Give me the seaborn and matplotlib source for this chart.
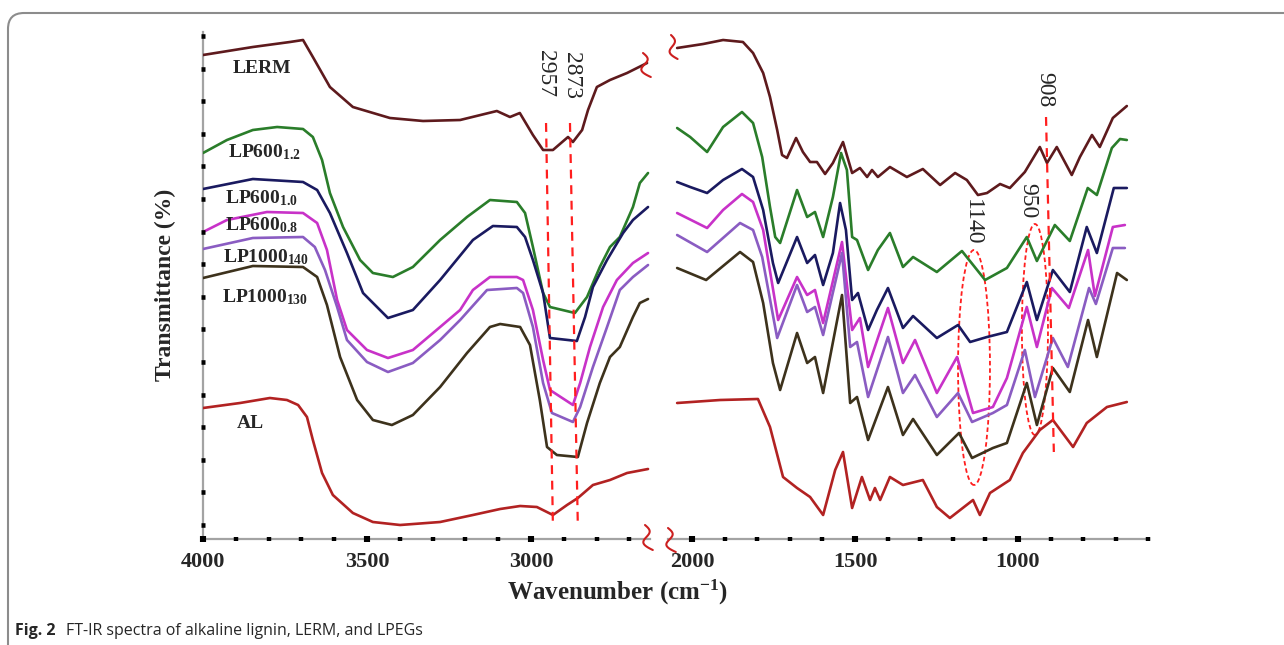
import numpy as np
import pandas as pd
import matplotlib
matplotlib.use("Agg")
import matplotlib.pyplot as plt
import seaborn as sns
from matplotlib.patches import Ellipse, FancyBboxPatch
from matplotlib.transforms import Affine2D
from matplotlib.ticker import MultipleLocator

# ---------------- data (transmittance in arbitrary units) ----------------
samples = ["LERM", "LP600_1.2", "LP600_1.0", "LP600_0.8", "LP1000_140", "LP1000_130", "AL"]
colors = ["#5e1a1d", "#2a7d2a", "#1a1a60", "#c832c8", "#8a5cc2", "#3d321c", "#b22222"]

# high wavenumber region (4000 - 2640 cm-1)
lerm_hi_wn = [4000, 3848, 3735, 3695, 3665, 3613, 3543, 3430, 3329, 3216, 3104, 3064, 3034, 2994, 2963, 2933, 2887, 2872, 2844, 2826, 2799, 2759, 2707, 2646]
lerm_hi_t = [96.8, 98.4, 99.4, 99.8, 96.4, 90.4, 86.4, 84.2, 83.6, 83.8, 85.6, 84.4, 85.2, 80.8, 77.8, 77.8, 80.4, 79.4, 81.8, 85.8, 90.4, 91.8, 93.2, 95.2]
g12_hi_wn = [4000, 3927, 3848, 3774, 3695, 3665, 3637, 3613, 3573, 3521, 3482, 3421, 3360, 3277, 3195, 3125, 3043, 3018, 2994, 2963, 2942, 2866, 2829, 2790, 2759, 2729, 2689, 2668, 2643]
g12_hi_t = [77.2, 79.8, 81.8, 82.4, 82.0, 80.4, 75.8, 69.2, 62.4, 55.8, 53.2, 52.4, 54.4, 59.8, 64.4, 67.8, 67.4, 65.2, 58.4, 49.2, 46.4, 45.2, 48.4, 54.4, 58.4, 60.4, 66.4, 71.2, 73.2]
n10_hi_wn = [4000, 3848, 3695, 3652, 3613, 3561, 3512, 3436, 3360, 3277, 3177, 3116, 3043, 3018, 2994, 2963, 2942, 2860, 2835, 2811, 2768, 2719, 2689, 2643]
n10_hi_t = [70.0, 72.0, 71.4, 69.8, 65.2, 57.2, 49.2, 44.2, 45.8, 51.8, 59.8, 62.6, 62.4, 60.4, 55.8, 49.2, 40.2, 39.6, 44.4, 50.4, 55.8, 61.2, 63.8, 66.4]
m08_hi_wn = [4000, 3927, 3805, 3695, 3652, 3622, 3591, 3561, 3500, 3436, 3360, 3277, 3216, 3177, 3125, 3043, 3024, 2994, 2963, 2942, 2872, 2850, 2820, 2780, 2738, 2689, 2643]
m08_hi_t = [61.4, 63.8, 65.4, 65.2, 63.2, 57.8, 47.8, 41.8, 37.8, 36.2, 37.8, 42.4, 45.8, 49.8, 52.4, 52.4, 51.8, 45.8, 35.8, 29.8, 26.8, 31.2, 38.4, 46.4, 51.8, 55.2, 57.2]
p140_hi_wn = [4000, 3848, 3695, 3659, 3628, 3591, 3561, 3500, 3436, 3360, 3277, 3216, 3134, 3043, 3024, 2994, 2963, 2936, 2872, 2850, 2811, 2768, 2729, 2689, 2643]
p140_hi_t = [58.0, 60.2, 60.4, 58.4, 53.8, 46.4, 39.8, 35.4, 33.4, 35.2, 39.8, 43.8, 49.8, 50.2, 49.2, 42.4, 31.2, 25.2, 23.4, 26.4, 34.4, 42.4, 49.8, 52.4, 54.8]
o130_hi_wn = [4000, 3848, 3695, 3652, 3622, 3582, 3530, 3482, 3424, 3360, 3277, 3195, 3125, 3094, 3033, 3003, 2973, 2951, 2921, 2857, 2829, 2790, 2759, 2729, 2689, 2668, 2643]
o130_hi_t = [52.2, 54.6, 54.4, 52.4, 46.8, 36.4, 27.8, 23.8, 22.8, 24.8, 30.4, 37.2, 42.4, 43.0, 42.4, 38.8, 27.8, 18.4, 16.8, 16.4, 23.2, 31.2, 36.4, 38.4, 44.4, 47.2, 48.0]
al_hi_wn = [4000, 3887, 3796, 3744, 3710, 3683, 3665, 3637, 3604, 3543, 3482, 3399, 3277, 3177, 3094, 3033, 2982, 2933, 2890, 2857, 2811, 2759, 2707, 2643]
al_hi_t = [26.2, 27.2, 28.2, 27.8, 26.8, 24.4, 19.8, 13.2, 8.8, 5.2, 3.4, 2.8, 3.4, 4.8, 6.0, 6.6, 6.4, 4.8, 6.8, 8.2, 10.8, 11.8, 13.2, 14.0]

# fingerprint region (2050 - 660 cm-1)
lerm_lo_wn = [2046, 1966, 1905, 1844, 1813, 1782, 1761, 1739, 1724, 1709, 1681, 1660, 1638, 1617, 1592, 1568, 1537, 1509, 1485, 1463, 1448, 1430, 1393, 1341, 1292, 1239, 1193, 1157, 1123, 1095, 1055, 1025, 979, 933, 911, 881, 835, 810, 773, 749, 709, 666]
lerm_lo_t = [98.2, 99.0, 99.8, 99.4, 97.2, 93.2, 88.4, 81.8, 76.8, 76.2, 80.2, 77.4, 75.4, 75.4, 73.0, 75.2, 79.4, 73.2, 74.2, 72.4, 73.8, 72.4, 74.4, 72.4, 74.0, 70.8, 73.2, 71.8, 68.8, 69.2, 71.0, 70.2, 73.4, 78.4, 75.2, 78.4, 72.8, 76.4, 80.8, 78.4, 84.2, 86.6]
g12_lo_wn = [2046, 2006, 1954, 1905, 1847, 1813, 1785, 1761, 1745, 1730, 1678, 1647, 1623, 1598, 1568, 1543, 1525, 1509, 1494, 1460, 1430, 1393, 1353, 1322, 1249, 1172, 1101, 1034, 973, 942, 887, 841, 786, 758, 712, 687, 666]
g12_lo_t = [82.2, 80.4, 77.4, 82.4, 85.4, 83.2, 76.4, 66.4, 60.4, 59.2, 69.8, 64.4, 65.4, 60.4, 68.4, 77.2, 73.8, 60.4, 59.8, 53.8, 57.8, 61.2, 54.4, 56.4, 53.4, 57.6, 51.8, 54.2, 60.4, 55.6, 62.8, 59.6, 70.2, 68.8, 78.2, 80.0, 79.8]
n10_lo_wn = [2046, 2006, 1954, 1905, 1847, 1813, 1782, 1752, 1736, 1678, 1647, 1623, 1598, 1568, 1546, 1528, 1509, 1491, 1460, 1433, 1399, 1353, 1322, 1249, 1184, 1147, 1095, 1034, 973, 942, 893, 841, 789, 758, 706, 666]
n10_lo_t = [71.4, 70.4, 69.2, 71.8, 74.0, 72.4, 65.8, 55.2, 51.2, 60.4, 55.2, 56.8, 50.8, 57.2, 67.2, 61.8, 47.8, 49.2, 41.8, 45.8, 50.2, 42.2, 44.6, 40.2, 42.8, 39.4, 40.4, 41.4, 51.4, 43.8, 53.8, 49.4, 62.4, 57.2, 70.2, 70.2]
m08_lo_wn = [2046, 1954, 1905, 1847, 1813, 1782, 1736, 1678, 1647, 1623, 1598, 1540, 1509, 1485, 1460, 1399, 1353, 1316, 1249, 1187, 1138, 1077, 1034, 973, 942, 896, 844, 785, 764, 709, 672]
m08_lo_t = [65.2, 62.2, 65.8, 69.0, 67.4, 61.8, 43.8, 52.4, 48.8, 49.8, 43.2, 59.4, 41.8, 44.2, 34.4, 46.2, 35.2, 39.8, 29.2, 36.4, 25.2, 26.4, 32.2, 46.4, 38.4, 50.2, 46.2, 57.8, 48.6, 62.4, 62.8]
p140_lo_wn = [2046, 1954, 1853, 1813, 1785, 1739, 1678, 1647, 1623, 1598, 1540, 1515, 1494, 1460, 1399, 1353, 1316, 1249, 1184, 1141, 1077, 1034, 979, 948, 893, 847, 782, 761, 709, 672]
p140_lo_t = [60.8, 57.4, 63.2, 61.8, 56.4, 40.2, 50.8, 45.4, 46.4, 40.8, 57.2, 38.4, 39.4, 28.4, 40.4, 29.2, 32.8, 24.4, 29.2, 23.4, 25.2, 26.8, 37.8, 28.4, 40.2, 34.4, 50.2, 47.0, 58.2, 58.2]
o130_lo_wn = [2046, 1957, 1853, 1813, 1782, 1752, 1730, 1678, 1647, 1623, 1598, 1540, 1515, 1494, 1460, 1399, 1353, 1322, 1249, 1181, 1141, 1077, 1034, 973, 942, 893, 841, 785, 758, 696, 666]
o130_lo_t = [54.2, 51.8, 57.4, 55.4, 47.2, 35.2, 29.8, 41.2, 35.2, 36.4, 29.2, 48.8, 27.2, 28.4, 19.8, 30.4, 20.8, 24.0, 16.8, 21.2, 16.2, 18.2, 19.2, 31.2, 22.8, 34.2, 29.4, 43.8, 36.4, 53.2, 51.8]
al_lo_wn = [2046, 1914, 1798, 1761, 1721, 1678, 1638, 1598, 1561, 1537, 1509, 1479, 1454, 1439, 1423, 1393, 1353, 1292, 1249, 1209, 1138, 1117, 1086, 1025, 985, 933, 893, 831, 789, 727, 666]
al_lo_t = [27.2, 27.8, 28.0, 22.4, 12.4, 10.2, 8.4, 4.8, 13.8, 17.4, 6.2, 12.4, 7.8, 10.2, 7.8, 12.4, 10.8, 11.8, 6.4, 4.2, 7.8, 4.8, 9.2, 11.8, 17.2, 21.8, 23.8, 18.4, 23.2, 26.4, 27.4]

# curve labels: text, left wavenumber, baseline transmittance
label_texts = ["LERM", r"LP600$_{\mathbf{1.2}}$", r"LP600$_{\mathbf{1.0}}$", r"LP600$_{\mathbf{0.8}}$",
               r"LP1000$_{\mathbf{140}}$", r"LP1000$_{\mathbf{130}}$", "AL"]
label_wn = [3909, 3924, 3933, 3933, 3939, 3942, 3896]
label_t = [93.2, 76.4, 67.2, 61.8, 55.4, 47.4, 22.2]

# peak markers
peak_hi = ["2957", "2873"]
peak_hi_text_wn = [2957, 2875]
peak_hi_text_t = [93.0, 92.6]
peak_hi_line_wn = [(2954, 2933), (2881, 2857)]
peak_line_t = (83.2, 2.4)
peak_908_line_wn = (914, 890)
peak_908_line_t = (84.4, 17.4)
peak_lo = ["908", "950", "1140"]
peak_lo_text_wn = [917, 969, 1141]
peak_lo_text_t = [89.8, 67.6, 63.4]
ellipse_wn = [948, 1135]
ellipse_t = [41.9, 34.3]
ellipse_w = [80, 98]
ellipse_h = [42.2, 47.0]

hi_major = [4000, 3500, 3000]
lo_major = [2000, 1500, 1000]
y_ticks = np.linspace(2.8, 100.6, 16)

# ---------------- build tables ----------------
hi_series = [(lerm_hi_wn, lerm_hi_t), (g12_hi_wn, g12_hi_t), (n10_hi_wn, n10_hi_t), (m08_hi_wn, m08_hi_t),
             (p140_hi_wn, p140_hi_t), (o130_hi_wn, o130_hi_t), (al_hi_wn, al_hi_t)]
lo_series = [(lerm_lo_wn, lerm_lo_t), (g12_lo_wn, g12_lo_t), (n10_lo_wn, n10_lo_t), (m08_lo_wn, m08_lo_t),
             (p140_lo_wn, p140_lo_t), (o130_lo_wn, o130_lo_t), (al_lo_wn, al_lo_t)]


def table(series):
    frames = []
    for name, (wn, t) in zip(samples, series):
        frames.append(pd.DataFrame({"wavenumber": wn, "T": t, "sample": name}))
    return pd.concat(frames, ignore_index=True)


df_hi = table(hi_series)
df_lo = table(lo_series)
palette = dict(zip(samples, colors))

# ---------------- style ----------------
sns.set_style("white")
plt.rcParams["font.family"] = ["Liberation Serif", "DejaVu Serif"]
plt.rcParams["mathtext.fontset"] = "custom"
plt.rcParams["mathtext.rm"] = "Liberation Serif"
plt.rcParams["mathtext.bf"] = "Liberation Serif:bold"
plt.rcParams["mathtext.it"] = "Liberation Serif:italic"

W, H = 1284, 645
fig = plt.figure(figsize=(W / 100, H / 100), dpi=100)
pix = Affine2D().scale(0.01, -0.01).translate(0, H / 100) + fig.dpi_scale_trans

ax_hi = fig.add_axes([203 / W, 106 / H, 447 / W, 507.5 / H])
ax_lo = fig.add_axes([668 / W, 106 / H, 481 / W, 507.5 / H])

for ax, df in ((ax_hi, df_hi), (ax_lo, df_lo)):
    sns.lineplot(data=df, x="wavenumber", y="T", hue="sample", palette=palette,
                 estimator=None, sort=False, legend=False, linewidth=1.9, ax=ax)
    ax.set_xlabel("")
    ax.set_ylabel("")
    ax.set_ylim(0, 101.5)
    for ln in ax.get_lines():
        ln.set_solid_joinstyle("round")
    ax.spines["top"].set_visible(False)
    ax.spines["right"].set_visible(False)
    for s in ("left", "bottom"):
        ax.spines[s].set_color("#a3a3a3")
        ax.spines[s].set_linewidth(1.6)
        ax.spines[s].set_zorder(1.5)
    ax.xaxis.set_zorder(3)
    ax.yaxis.set_zorder(3)
    ax.xaxis.set_minor_locator(MultipleLocator(100))
    ax.tick_params(axis="x", which="major", bottom=True, direction="inout", length=4.4, width=4.4,
                   color="black", pad=7)
    ax.tick_params(axis="x", which="minor", bottom=True, direction="inout", length=3.2, width=3.2,
                   color="black")

ax_hi.set_xlim(4000, 2637)
ax_lo.set_xlim(2074, 598)
ax_hi.set_xticks(hi_major, labels=[str(v) for v in hi_major], fontsize=16, fontweight="bold")
ax_lo.set_xticks(lo_major, labels=[str(v) for v in lo_major], fontsize=16, fontweight="bold")
ax_hi.set_yticks(y_ticks, labels=[""] * len(y_ticks))
ax_hi.tick_params(axis="y", which="major", left=True, direction="inout", length=3.3, width=3.3,
                  color="black")
ax_lo.spines["left"].set_visible(False)
ax_lo.set_yticks([])

# curve labels
for txt, wn, t in zip(label_texts, label_wn, label_t):
    ax_hi.text(wn, t, txt, fontsize=14, fontweight="bold", ha="left", va="baseline")

# peak annotations
red = "#ff1e1e"
for txt, wn, t in zip(peak_hi, peak_hi_text_wn, peak_hi_text_t):
    ax_hi.text(wn, t, txt, fontsize=17, rotation=-90, ha="center", va="center")
for (w0, w1) in peak_hi_line_wn:
    ax_hi.plot([w0, w1], list(peak_line_t), color=red, lw=1.6, dashes=(4, 3))
ax_lo.plot(list(peak_908_line_wn), list(peak_908_line_t), color=red, lw=1.6, dashes=(4, 3))
for txt, wn, t in zip(peak_lo, peak_lo_text_wn, peak_lo_text_t):
    ax_lo.text(wn, t, txt, fontsize=17, rotation=-90, ha="center", va="center")
for wn, t, w, h in zip(ellipse_wn, ellipse_t, ellipse_w, ellipse_h):
    ax_lo.add_patch(Ellipse((wn, t), w, h, fill=False, ec=red, lw=1.3, ls=(0, (2.5, 1.6))))


# axis-break squiggles
def squiggle(x0, y0, w, h):
    s = np.linspace(0, 1, 60)
    xs = x0 + w * (0.35 * np.sin(2 * np.pi * s) + 0.6 * s ** 3)
    ys = y0 + h * s
    fig.add_artist(plt.Line2D(xs, ys, transform=pix, color="#cc1f1f", lw=1.5, clip_on=False))


squiggle(645, 525, 13, 25)
squiggle(668, 528, 13, 24)
squiggle(643, 53, 13, 24)
squiggle(671, 35, 11, 24)

# axis titles
fig.text(618 / W, (H - 592) / H, r"Wavenumber (cm$^{\mathbf{-1}}$)", ha="center", va="center",
         fontsize=18, fontweight="bold")
fig.text(165 / W, (H - 285) / H, "Transmittance (%)", rotation=90, ha="center", va="center",
         fontsize=17, fontweight="bold")

# frame and caption
fig.add_artist(FancyBboxPatch((0.08, -0.3), 13.5, 6.62, boxstyle="round,pad=0,rounding_size=0.16",
                              transform=fig.dpi_scale_trans, fill=False, ec="#8c8c8c", lw=1.5,
                              clip_on=False))
cap1 = fig.text(15 / W, (H - 631) / H, "Fig. 2", fontsize=11.5, fontweight="bold",
                family=["Open Sans", "DejaVu Sans"], va="center", ha="left")
fig.canvas.draw()
bb = cap1.get_window_extent()
fig.text((bb.x1 + 10) / W, (H - 631) / H, "FT-IR spectra of alkaline lignin, LERM, and LPEGs",
         fontsize=11.5, family=["Open Sans", "DejaVu Sans"], va="center", ha="left")

fig.savefig("out.png", dpi=100)
